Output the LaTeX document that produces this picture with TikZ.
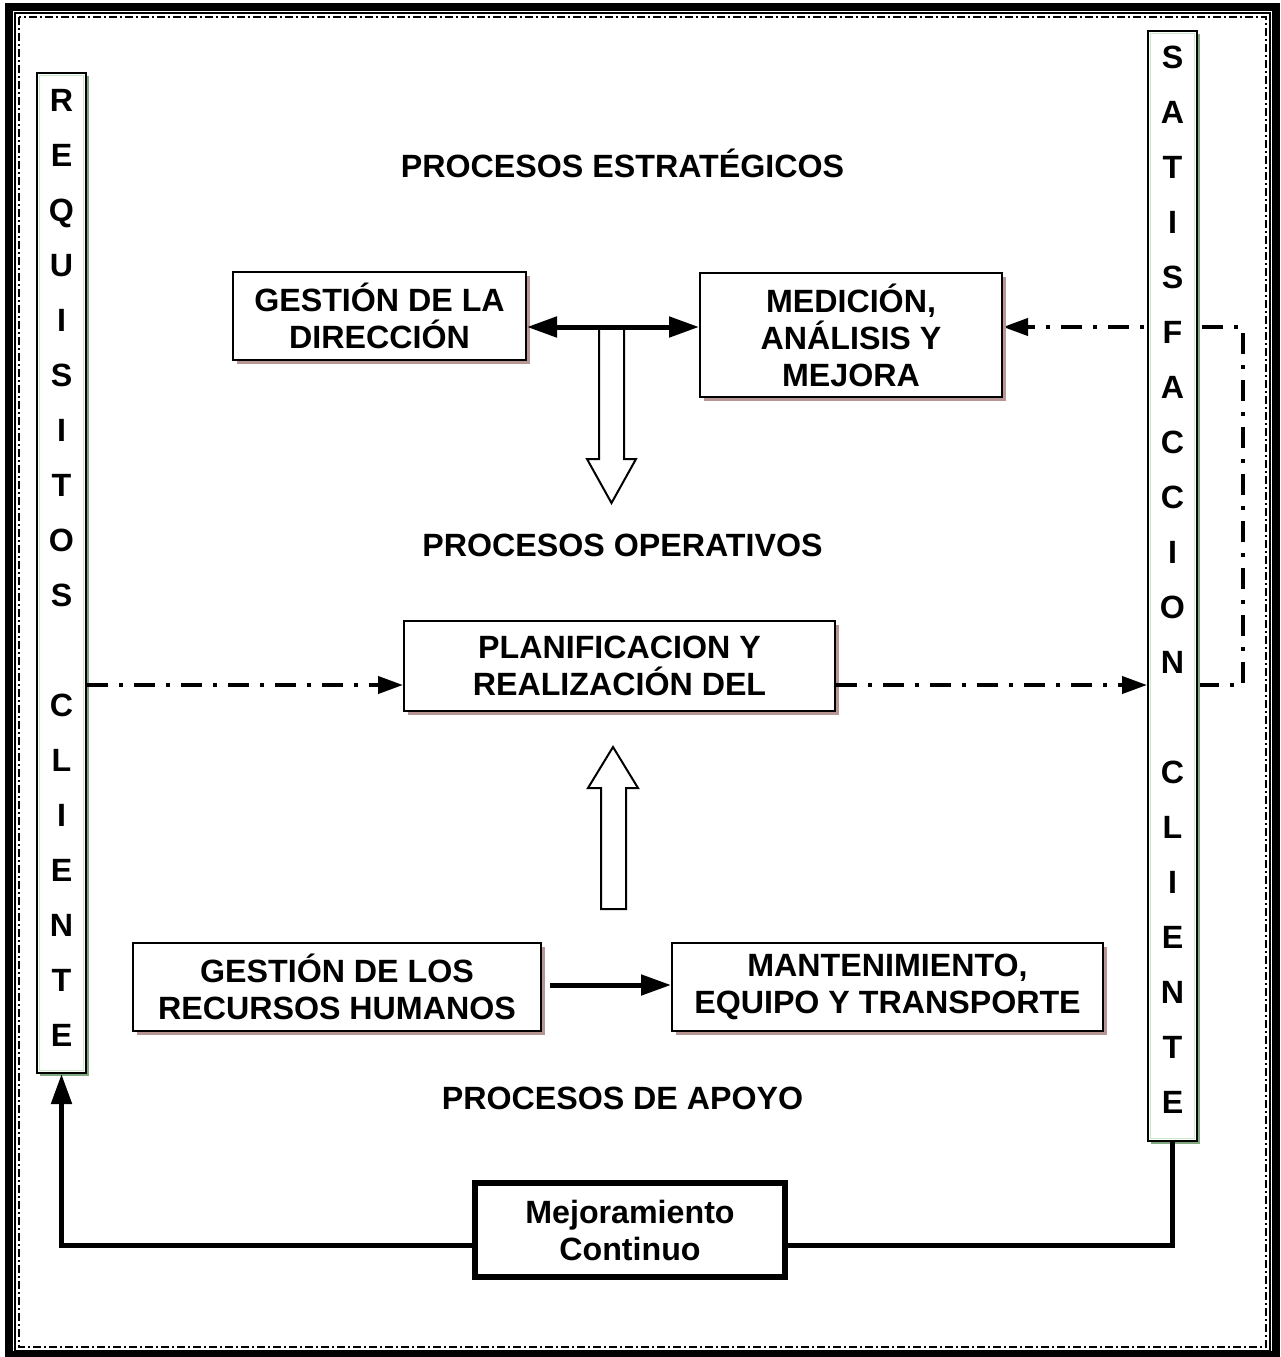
\documentclass[tikz,border=0pt]{standalone}
\usepackage{fontspec}
\setmainfont{Liberation Sans}
\usetikzlibrary{arrows.meta,shadows,calc}

\definecolor{shadowrose}{RGB}{184,150,150}
\definecolor{shadowgreen}{RGB}{128,168,128}
\definecolor{palegreen}{RGB}{200,236,200}

\pgfdeclarelayer{back}
\pgfsetlayers{back,main}

\tikzset{
  lbl/.style={font=\bfseries\fontsize{32.2}{37}\selectfont, align=center, inner sep=0pt},
  procbox/.style={lbl, draw, line width=2pt, fill=white,
    drop shadow={shadow xshift=3.5pt, shadow yshift=-3.5pt, fill=shadowrose, opacity=1}},
  sidebar/.style={draw, line width=2pt, fill=white, minimum width=49pt, inner sep=0pt,
    drop shadow={shadow xshift=3pt, shadow yshift=-3pt, fill=shadowgreen, opacity=1}},
  barletters/.style={lbl, font=\bfseries\fontsize{32.2}{55}\selectfont},
  heavy/.style={line width=5pt},
  solidtip/.style={-{Triangle[length=30pt,width=20pt]}},
  flowline/.style={line width=4pt, dash pattern=on 21pt off 11pt on 4pt off 11pt,
    -{Triangle[length=25pt,width=17pt]}},
  hollow/.style={line width=2pt, fill=white, line join=miter}
}

\begin{document}
\begin{tikzpicture}[x=1pt, y=-1pt]
  \useasboundingbox (0,0) rectangle (1280,1357);

  % page frame: heavy rule, thin rule, dash-dot rule
  \draw[line width=8pt] (9,6.5) rectangle (1276,1355);
  \draw[line width=1.5pt] (15,13) rectangle (1270,1351);
  \draw[line width=2.5pt, dash pattern=on 8pt off 3pt on 2pt off 3pt] (19,17) rectangle (1266,1347);

  % side bars
  \node[sidebar, minimum height=1000pt] (reqbar) at (61.5,573) {};
  \draw[palegreen, line width=1.2pt] ($(reqbar.north west)+(3.5pt,-3.5pt)$) rectangle ($(reqbar.south east)+(-3.5pt,3.5pt)$);
  \node[barletters] (reqtxt) at (61.5,567.5)
    {R\\E\\Q\\U\\I\\S\\I\\T\\O\\S\\\mbox{}\\C\\L\\I\\E\\N\\T\\E};

  \node[sidebar, minimum height=1110pt] (satbar) at (1172.5,586) {};
  \draw[palegreen, line width=1.2pt] ($(satbar.north west)+(3.5pt,-3.5pt)$) rectangle ($(satbar.south east)+(-3.5pt,3.5pt)$);
  \node[barletters] (sattxt) at (1172.5,579.5)
    {S\\A\\T\\I\\S\\F\\A\\C\\C\\I\\O\\N\\\mbox{}\\C\\L\\I\\E\\N\\T\\E};

  % section titles
  \node[lbl, anchor=base] (tstrat) at (622.5,177.5) {PROCESOS ESTRATÉGICOS};
  \node[lbl, anchor=base] (toper)  at (622.5,556.5) {PROCESOS OPERATIVOS};
  \node[lbl, anchor=base] (tapoyo) at (622.5,1109.5) {PROCESOS DE APOYO};

  % process boxes
  \node[procbox, minimum width=293pt, minimum height=88pt] (gestion) at (379.5,316)
    {GESTIÓN DE LA\\DIRECCIÓN};
  \node[procbox, minimum width=302pt, minimum height=124pt] (medicion) at (851,335)
    {MEDICIÓN,\\ANÁLISIS Y\\MEJORA};
  \node[procbox, minimum width=431pt, minimum height=90pt] (plan) at (619.5,666)
    {PLANIFICACION Y\\REALIZACIÓN DEL};
  \node[procbox, minimum width=408pt, minimum height=88pt] (rrhh) at (337,987)
    {GESTIÓN DE LOS\\RECURSOS HUMANOS};
  \node[procbox, minimum width=431pt, minimum height=88pt] (mant) at (887.5,987)
    {MANTENIMIENTO,\\EQUIPO Y TRANSPORTE};
  \node[lbl, draw, line width=6pt, minimum width=310pt, minimum height=94pt] (mejora) at (630,1230)
    {Mejoramiento\\Continuo};

  % routing points
  \coordinate (hub)  at (611.5,327);
  \coordinate (flow) at (0,685);
  \coordinate (fbk)  at (1243,327);
  \coordinate (loop) at (0,1245);

  % wide hollow arrows
  \draw[hollow] (599,327) -- (599,459) -- (587,459) -- (611.5,503) -- (636,459) -- (624,459) -- (624,327);
  \draw[hollow] (601,909) -- (601,788) -- (588,788) -- (613,747) -- (638,788) -- (626,788) -- (626,909) -- cycle;

  % strategic link
  \draw[heavy, {Triangle[length=30pt,width=20pt]}-{Triangle[length=30pt,width=20pt]}]
    (gestion.east |- hub) -- (medicion.west |- hub);

  % operative flow
  \draw[flowline] (reqbar.east |- flow) -- (plan.west |- flow);
  \draw[flowline] (plan.east |- flow) -- (satbar.west |- flow);
  \begin{pgfonlayer}{back}
    \draw[flowline] (satbar.east |- flow) -| (fbk) -- (medicion.east |- fbk);
  \end{pgfonlayer}

  % support link
  \draw[heavy, solidtip, shorten <=8pt] (rrhh.east |- 0,985) -- (mant.west |- 0,985);

  % improvement loop
  \draw[heavy, solidtip] (mejora.west |- loop) -| (reqbar.south);
  \draw[heavy] (mejora.east |- loop) -| (satbar.south);
\end{tikzpicture}
\end{document}
